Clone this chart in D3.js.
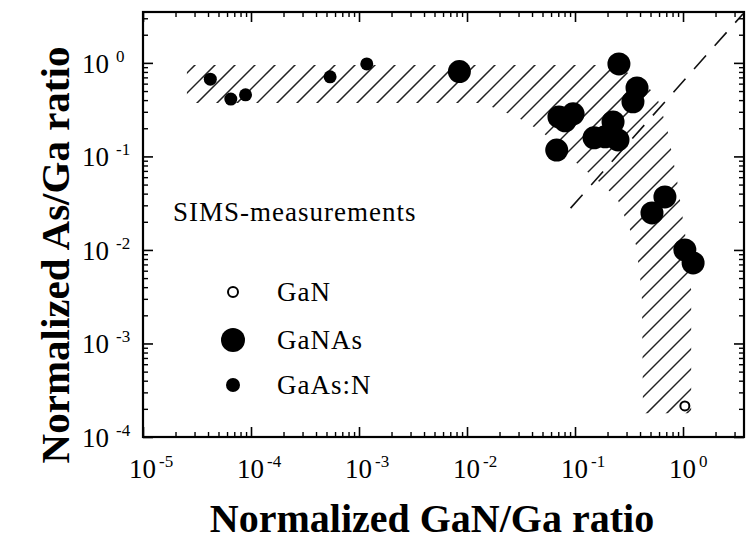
<!DOCTYPE html>
<html>
<head>
<meta charset="utf-8">
<script src="https://cdn.jsdelivr.net/npm/d3@7"></script>
<style>
body { margin: 0; background: #fff; }
svg { font-family: "Liberation Serif", "Times New Roman", serif; }
</style>
</head>
<body>
<svg width="746" height="540"></svg>
<script>
// data
var ganX = [1.04];
var ganY = [2.15e-4];

var ganasX = [0.0085, 0.255, 0.375, 0.344, 0.071, 0.096, 0.081, 0.0677, 0.225, 0.15, 0.25, 0.19, 0.68, 0.516, 1.04, 1.24];
var ganasY = [0.807, 0.975, 0.54, 0.383, 0.264, 0.285, 0.24, 0.117, 0.234, 0.158, 0.15, 0.162, 0.0369, 0.0249, 0.0100, 0.00726];

var gaasnX = [4.2e-5, 6.5e-5, 8.9e-5, 5.4e-4, 1.18e-3];
var gaasnY = [0.67, 0.41, 0.455, 0.71, 0.975];

var xTicks = [1e-5, 1e-4, 1e-3, 1e-2, 1e-1, 1e0];
var xTickExp = ["-5", "-4", "-3", "-2", "-1", "0"];
var yTicks = [1e-4, 1e-3, 1e-2, 1e-1, 1e0];
var yTickExp = ["-4", "-3", "-2", "-1", "0"];

// hatched band (outer edge then inner edge)
var hatchX = [2.55e-5, 0.211, 0.40, 0.574, 0.711, 0.88, 1.09, 1.19, 1.19,
              0.426, 0.417, 0.40, 0.367, 0.31, 0.245, 0.153, 0.0958, 0.0494, 0.029, 0.0138, 2.55e-5];
var hatchY = [0.95, 0.95, 0.69, 0.433, 0.202, 0.056, 0.0108, 0.00373, 1.8e-4,
              1.8e-4, 0.00292, 0.00514, 0.0113, 0.0185, 0.036, 0.0589, 0.0918, 0.183, 0.264, 0.373, 0.373];

// dashed guide line
var diagX = [0.091, 3.6];
var diagY = [0.028, 3.35];

var legendLabels = ["GaN", "GaNAs", "GaAs:N"];

var svg = d3.select('svg');

var x = d3.scaleLog()
    .domain([1e-5, 3.67])
    .range([143, 744]);

var y = d3.scaleLog()
    .domain([1e-4, 3.5])
    .range([437, 12]);

// minor tick values 2..9 per decade
function minors(scale) {
    var d = scale.domain(), out = [];
    for (var e = -6; e <= 1; e++) {
        for (var k = 2; k <= 9; k++) {
            var v = k * Math.pow(10, e);
            if (v > d[0] && v < d[1]) out.push(v);
        }
    }
    return out;
}

// hatch region: clip a set of 45 degree strokes to the band outline
var hatchPts = hatchX.map(function(d, i) { return [x(d), y(hatchY[i])]; });
svg.append('defs').append('clipPath')
    .attr('id', 'band')
    .append('path')
    .attr('d', d3.line()(hatchPts) + 'Z');

svg.append('g')
    .attr('clip-path', 'url(#band)')
    .selectAll('line')
    .data(d3.range(0, 1300, 20))
    .enter().append('line')
    .attr('x1', function(c) { return c; })
    .attr('y1', 0)
    .attr('x2', function(c) { return c - 540; })
    .attr('y2', 540)
    .attr('stroke', '#222')
    .attr('stroke-width', 1.5);

// dashed line
svg.append('path')
    .attr('d', d3.line()(diagX.map(function(d, i) { return [x(d), y(diagY[i])]; })))
    .attr('stroke', '#111')
    .attr('stroke-width', 1.6)
    .attr('stroke-dasharray', '18,13')
    .attr('fill', 'none');

// axis ticks, inward on all four sides
function addAxis(axisFn, scale, transform, flip) {
    [[scale === x ? xTicks : yTicks, 10, 1.6], [minors(scale), 5, 1.4]].forEach(function(t) {
        svg.append('g')
            .attr('transform', transform)
            .call(axisFn(scale).tickValues(t[0]).tickSize(flip ? t[1] : -t[1]).tickSizeOuter(0).tickFormat(''))
            .call(function(g) { g.select('.domain').remove(); g.selectAll('line').attr('stroke-width', t[2]); });
    });
}
addAxis(d3.axisBottom, x, 'translate(0,437)', false);
addAxis(d3.axisBottom, x, 'translate(0,12)', true);
addAxis(d3.axisLeft, y, 'translate(143,0)', false);
addAxis(d3.axisLeft, y, 'translate(744,0)', true);

// frame
svg.append('rect')
    .attr('x', 143).attr('y', 12)
    .attr('width', 744 - 143).attr('height', 437 - 12)
    .attr('fill', 'none')
    .attr('stroke', '#000')
    .attr('stroke-width', 2.2);

// tick labels
var xl = svg.append('g').selectAll('text')
    .data(xTicks)
    .enter().append('text')
    .attr('x', function(d) { return x(d) - 14; })
    .attr('y', 478)
    .attr('font-size', 27)
    .attr('fill', '#000');
xl.append('tspan').text('10');
xl.append('tspan')
    .attr('dx', 3).attr('dy', -11)
    .attr('font-size', 17)
    .text(function(d, i) { return xTickExp[i]; });

var yl = svg.append('g').selectAll('text')
    .data(yTicks)
    .enter().append('text')
    .attr('x', 82)
    .attr('y', function(d) { return y(d) + 10; })
    .attr('font-size', 27)
    .attr('fill', '#000');
yl.append('tspan').text('10');
yl.append('tspan')
    .attr('dx', 7).attr('dy', -11)
    .attr('font-size', 17)
    .text(function(d, i) { return yTickExp[i]; });

// points
svg.append('g').selectAll('circle')
    .data(ganasX)
    .enter().append('circle')
    .attr('cx', function(d) { return x(d); })
    .attr('cy', function(d, i) { return y(ganasY[i]); })
    .attr('r', 11.5)
    .attr('fill', '#000');

svg.append('g').selectAll('circle')
    .data(gaasnX)
    .enter().append('circle')
    .attr('cx', function(d) { return x(d); })
    .attr('cy', function(d, i) { return y(gaasnY[i]); })
    .attr('r', 6.5)
    .attr('fill', '#000');

svg.append('g').selectAll('circle')
    .data(ganX)
    .enter().append('circle')
    .attr('cx', function(d) { return x(d); })
    .attr('cy', function(d, i) { return y(ganY[i]); })
    .attr('r', 4.5)
    .attr('fill', '#fff')
    .attr('stroke', '#000')
    .attr('stroke-width', 2);

// annotation + legend
svg.append('text')
    .attr('x', 173).attr('y', 221)
    .attr('font-size', 27)
    .attr('letter-spacing', 1)
    .text('SIMS-measurements');

var legY = [292, 340, 385];
var legR = [5, 12, 7];
var leg = svg.append('g');
leg.selectAll('circle')
    .data(legendLabels)
    .enter().append('circle')
    .attr('cx', 233)
    .attr('cy', function(d, i) { return legY[i]; })
    .attr('r', function(d, i) { return legR[i]; })
    .attr('fill', function(d, i) { return i === 0 ? '#fff' : '#000'; })
    .attr('stroke', '#000')
    .attr('stroke-width', function(d, i) { return i === 0 ? 2 : 0; });
leg.selectAll('text')
    .data(legendLabels)
    .enter().append('text')
    .attr('x', 277)
    .attr('y', function(d, i) { return legY[i] + 9; })
    .attr('font-size', 27)
    .attr('letter-spacing', 1)
    .text(function(d) { return d; });

// axis titles
svg.append('text')
    .attr('x', 432).attr('y', 532)
    .attr('text-anchor', 'middle')
    .attr('font-size', 40)
    .attr('font-weight', 'bold')
    .text('Normalized GaN/Ga ratio');

svg.append('text')
    .attr('transform', 'translate(69,255) rotate(-90)')
    .attr('text-anchor', 'middle')
    .attr('font-size', 41)
    .attr('font-weight', 'bold')
    .text('Normalized As/Ga ratio');
</script>
</body>
</html>
